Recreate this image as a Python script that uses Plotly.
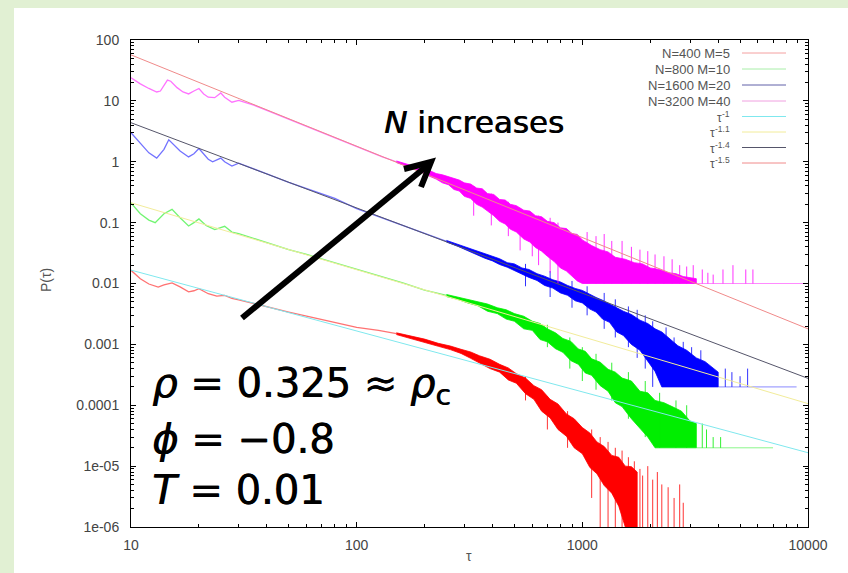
import plotly.graph_objects as go

# ---------------------------------------------------------------- data
# waiting-time distributions P(tau), four system sizes

# N=400 M=5 (red)
red_tau = [10, 11, 12, 13.2, 14, 15.2, 16.5, 18, 19, 20, 22, 24, 26, 28, 30, 40, 50, 60, 76, 100, 125, 150]
red_p = [0.0165, 0.012, 0.0098, 0.0087, 0.0095, 0.0102, 0.0088, 0.0073, 0.0076, 0.0082, 0.0068,
         0.0062, 0.0064, 0.0057, 0.0054, 0.0041, 0.0034, 0.0029, 0.0024, 0.0019, 0.0017, 0.0015]
red_band_tau = [150, 175, 200, 230, 260, 290, 320, 350, 390, 430, 470, 510, 560, 610, 660, 720, 780,
                850, 920, 1000, 1080, 1160, 1250, 1350, 1450, 1550, 1650, 1750]
red_band_hi = [0.00155, 0.00138, 0.00122, 0.00104, 0.00094, 0.00083, 0.00075, 0.00065, 0.00057, 0.00047,
               0.00041, 0.00033, 0.00028, 0.00021, 0.00018, 0.000125, 0.000105, 0.000072, 0.00006,
               0.000043, 0.000035, 0.000025, 0.000021, 0.000015, 0.000014, 0.000010, 0.0000098, 0.000008]
red_band_lo = [0.00145, 0.00125, 0.00108, 0.00093, 0.00082, 0.00071, 0.00059, 0.0005, 0.0004, 0.00035,
               0.00026, 0.00023, 0.000155, 0.000125, 0.00008, 0.000062, 0.00004, 0.000031, 0.00002,
               0.000016, 0.0000095, 0.0000075, 0.0000048, 0.0000036, 0.0000022, 0.000001, 4e-7, 4e-7]
red_floor = 4e-7
red_floor_end = 2800
red_spike_tau = [560, 700, 860, 1100, 1200, 1300, 1400, 1500, 1600, 1700, 1800, 1850, 1950, 2050,
                 2150, 2250, 2400, 2550, 2700, 2800]
red_spike_lo = [0.00012, 0.00004, 0.00002, 0.000003, 4e-7, 4e-7, 4e-7, 4e-7, 4e-7, 4e-7, 4e-7, 4e-7,
                4e-7, 4e-7, 4e-7, 4e-7, 4e-7, 4e-7, 4e-7, 4e-7]
red_spike_hi = [0.0003, 0.00014, 0.00008, 0.00004, 0.00003, 0.000025, 0.00002, 0.000018, 0.000014,
                0.000012, 0.000009, 0.000007, 0.00001, 0.000006, 0.000008, 0.000005, 0.0000045,
                0.000003, 0.000005, 0.0000025]

# N=800 M=10 (green)
green_tau = [10, 11, 12, 12.8, 14, 15.2, 16.5, 18, 19, 20, 21.5, 23.5, 26, 28, 30, 35, 40, 50, 60,
             80, 100, 130, 160, 200, 250]
green_p = [0.21, 0.14, 0.11, 0.10, 0.14, 0.165, 0.12, 0.088, 0.10, 0.115, 0.09, 0.077, 0.087, 0.07,
           0.066, 0.055, 0.048, 0.036, 0.030, 0.022, 0.017, 0.0128, 0.0102, 0.0078, 0.0064]
green_band_tau = [250, 280, 310, 345, 380, 420, 460, 500, 550, 600, 650, 700, 760, 820, 890, 960, 1030,
                  1100, 1200, 1300, 1400, 1500, 1650, 1800, 1950, 2100, 2300, 2500, 2750, 3000, 3200]
green_band_hi = [0.0066, 0.0060, 0.0056, 0.0050, 0.0046, 0.0040, 0.0037, 0.0032, 0.0029, 0.0024,
                 0.0022, 0.0018, 0.00155, 0.00125, 0.00112, 0.00084, 0.00077, 0.00058, 0.00051, 0.00039,
                 0.00035, 0.00028, 0.00025, 0.00017, 0.00016, 0.00012, 0.00011, 0.000095, 0.00008,
                 0.000055, 0.00005]
green_band_lo = [0.0061, 0.0055, 0.0048, 0.0043, 0.0035, 0.0032, 0.0026, 0.0024, 0.0018, 0.0017,
                 0.0012, 0.0011, 0.00085, 0.00074, 0.00054, 0.00047, 0.00034, 0.00031, 0.00021,
                 0.00017, 0.00011, 0.000095, 0.00006, 0.000042, 0.00003, 0.00002, 0.00002, 0.00002,
                 0.00002, 0.00002, 0.00002]
green_floor = 2e-5
green_floor_end = 7000
green_spike_tau = [700, 880, 1000, 1150, 1350, 1600, 1900, 2200, 2600, 2900, 3400, 3550, 3800, 4100]
green_spike_lo = [0.0009, 0.0004, 0.00025, 0.00018, 0.00012, 0.00006, 0.00003, 0.00002, 0.00002,
                  0.00002, 0.00002, 0.00002, 0.00002, 0.00002]
green_spike_hi = [0.0021, 0.0013, 0.0009, 0.0007, 0.0005, 0.00035, 0.00025, 0.00016, 0.00012, 0.0001,
                  0.00005, 0.00004, 0.00003, 0.00003]

# N=1600 M=20 (blue)
blue_tau = [10, 11, 12, 13, 14, 14.7, 15.5, 16.5, 18, 19, 20, 21, 22, 23, 25, 26, 28, 30, 35, 40,
            50, 60, 80, 100, 150, 200, 250]
blue_p = [3.0, 2.0, 1.4, 1.15, 1.6, 2.3, 1.9, 1.5, 1.2, 1.35, 1.65, 1.35, 1.1, 1.0, 1.15, 1.0, 0.85,
          0.95, 0.75, 0.63, 0.46, 0.36, 0.25, 0.17, 0.099, 0.066, 0.049]
blue_band_tau = [250, 280, 310, 340, 370, 400, 430, 465, 500, 540, 580, 630, 680, 740, 800, 860, 930,
                 1000, 1080, 1150, 1230, 1320, 1420, 1520, 1650, 1800, 1950, 2100, 2250, 2450, 2650,
                 2900, 3200, 3500, 3800, 4000]
blue_band_hi = [0.051, 0.044, 0.039, 0.035, 0.031, 0.028, 0.0255, 0.022, 0.021, 0.018, 0.017, 0.0145,
                0.0132, 0.0115, 0.0106, 0.0093, 0.0083, 0.0077, 0.0066, 0.0059, 0.0053, 0.0046,
                0.0041, 0.0035, 0.0031, 0.0025, 0.0022, 0.0018, 0.0016, 0.0012, 0.00095, 0.0008,
                0.0006, 0.00052, 0.0004, 0.00035]
blue_band_lo = [0.048, 0.041, 0.035, 0.030, 0.026, 0.0235, 0.0205, 0.0185, 0.0162, 0.0143, 0.0126,
                0.0112, 0.0093, 0.0084, 0.007, 0.0064, 0.0052, 0.0048, 0.0038, 0.0034, 0.0026, 0.0023,
                0.0016, 0.0014, 0.001, 0.0008, 0.00052, 0.00036, 0.0002, 0.0002, 0.0002, 0.0002,
                0.0002, 0.0002, 0.0002, 0.0002]
blue_floor = 2e-4
blue_floor_end = 8900
blue_spike_tau = [560, 720, 900, 1050, 1250, 1400, 1600, 1750, 1900, 2050, 2350, 2550, 2800, 3050,
                  3350, 4300, 4600, 5000, 5400]
blue_spike_lo = [0.009, 0.006, 0.004, 0.003, 0.0018, 0.0013, 0.0009, 0.0006, 0.0004, 0.0002, 0.0002,
                 0.0002, 0.0002, 0.0002, 0.0002, 0.0002, 0.0002, 0.0002, 0.0002]
blue_spike_hi = [0.021, 0.016, 0.011, 0.009, 0.007, 0.0055, 0.0042, 0.0037, 0.003, 0.0024, 0.0019,
                 0.0013, 0.0011, 0.0009, 0.0008, 0.0004, 0.00035, 0.0003, 0.0004]

# N=3200 M=40 (magenta)
mag_tau = [10, 11, 12, 13, 13.5, 14.5, 15, 16, 17, 18, 19, 20, 21, 22, 23.5, 25, 26, 28, 30, 35, 40,
           50, 60, 70, 80, 100, 130, 150]
mag_p = [24, 19, 16, 14, 14.5, 22, 21, 16.5, 14, 13, 14.5, 16, 13, 11.5, 11.3, 13.5, 11.5, 9.5, 10.2,
         8.5, 7.0, 5.0, 3.8, 3.05, 2.5, 1.78, 1.2, 1.0]
mag_band_tau = [150, 165, 180, 195, 210, 225, 240, 255, 270, 285, 300, 320, 340, 360, 380, 405, 430,
                455, 480, 510, 550, 585, 620, 660, 700, 750, 800, 850, 900, 950, 1000, 1100, 1200,
                1300, 1400, 1550, 1700, 1850, 2000, 2200, 2400, 2600, 2800, 3000, 3200]
mag_band_hi = [1.03, 0.92, 0.83, 0.77, 0.72, 0.64, 0.61, 0.57, 0.52, 0.50, 0.45, 0.43, 0.37, 0.36,
               0.30, 0.29, 0.24, 0.235, 0.20, 0.19, 0.16, 0.155, 0.13, 0.125, 0.105, 0.10, 0.082,
               0.08, 0.066, 0.064, 0.052, 0.042, 0.036, 0.033, 0.027, 0.025, 0.022, 0.021, 0.018,
               0.017, 0.015, 0.0145, 0.013, 0.0125, 0.012]
mag_band_lo = [0.97, 0.86, 0.76, 0.68, 0.58, 0.52, 0.45, 0.42, 0.35, 0.33, 0.27, 0.25, 0.20, 0.18,
               0.155, 0.13, 0.105, 0.095, 0.078, 0.07, 0.054, 0.048, 0.039, 0.034, 0.028, 0.023,
               0.018, 0.016, 0.013, 0.011, 0.010, 0.010, 0.010, 0.010, 0.010, 0.010, 0.010, 0.010,
               0.010, 0.010, 0.010, 0.010, 0.010, 0.010, 0.010]
mag_floor = 0.01
mag_floor_end = 9800
mag_spike_tau = [330, 395, 470, 530, 600, 640, 720, 780, 1050, 1150, 1250, 1350, 1500, 1650, 1800,
                 1950, 2100, 2300, 2500, 2700, 2900, 3100, 3400, 3600, 3800, 4200, 4650, 5300, 5700]
mag_spike_lo = [0.13, 0.09, 0.06, 0.035, 0.028, 0.02, 0.015, 0.01, 0.01, 0.01, 0.01, 0.01, 0.01, 0.01,
                0.01, 0.01, 0.01, 0.01, 0.01, 0.01, 0.01, 0.01, 0.01, 0.01, 0.01, 0.01, 0.01, 0.01, 0.01]
mag_spike_hi = [0.40, 0.30, 0.22, 0.17, 0.14, 0.13, 0.12, 0.10, 0.07, 0.06, 0.065, 0.05, 0.05, 0.04,
                0.036, 0.034, 0.03, 0.028, 0.025, 0.02, 0.019, 0.02, 0.017, 0.015, 0.014, 0.017,
                0.02, 0.017, 0.017]

# power-law guides  P = A * tau^(-k)
fit_k = [1.0, 1.1, 1.4, 1.5]
fit_amp = [0.166, 2.67, 110.0, 1800.0]
fit_tau = [10, 10000]

series_names = ["N=400 M=5", "N=800 M=10", "N=1600 M=20", "N=3200 M=40"]
fit_exp_labels = ["-1", "-1.1", "-1.4", "-1.5"]

y_tickvals = [1e-6, 1e-5, 1e-4, 1e-3, 1e-2, 1e-1, 1, 10, 100]
y_ticktext = ["1e-06", "1e-05", "0.0001", "0.001", "0.01", "0.1", "1", "10", "100"]
x_tickvals = [10, 100, 1000, 10000]
x_ticktext = ["10", "100", "1000", "10000"]

# ---------------------------------------------------------------- styling
series_colors = ["#ff0000", "#00ee00", "#0000ff", "#ff00ff"]
fit_colors = ["#7fe8ee", "#f2ec9a", "#55556a", "#f08a8a"]

W, H = 848, 573
PX0, PX1, PY0, PY1 = 131, 808, 40, 527   # plot frame in pixels


def fx(x):
    return (x - PX0) / (PX1 - PX0)


def fy(y):
    return (PY1 - y) / (PY1 - PY0)


fig = go.Figure()

series = [
    (red_tau, red_p, red_band_tau, red_band_lo, red_band_hi, red_floor, red_floor_end,
     red_spike_tau, red_spike_lo, red_spike_hi),
    (green_tau, green_p, green_band_tau, green_band_lo, green_band_hi, green_floor, green_floor_end,
     green_spike_tau, green_spike_lo, green_spike_hi),
    (blue_tau, blue_p, blue_band_tau, blue_band_lo, blue_band_hi, blue_floor, blue_floor_end,
     blue_spike_tau, blue_spike_lo, blue_spike_hi),
    (mag_tau, mag_p, mag_band_tau, mag_band_lo, mag_band_hi, mag_floor, mag_floor_end,
     mag_spike_tau, mag_spike_lo, mag_spike_hi),
]

for (tau, p, btau, blo, bhi, floor, fend, stau, slo, shi), col in zip(series, series_colors):
    # early, smooth part of the histogram
    fig.add_trace(go.Scatter(x=tau, y=p, mode="lines", line=dict(color=col, width=1.3),
                             opacity=0.55, showlegend=False, hoverinfo="skip"))
    # noisy region drawn as a filled band
    fig.add_trace(go.Scatter(x=btau + btau[::-1], y=bhi + blo[::-1], mode="lines",
                             fill="toself", fillcolor=col, line=dict(color=col, width=0.8),
                             showlegend=False, hoverinfo="skip"))
    # single-count floor
    fig.add_trace(go.Scatter(x=[btau[-1], fend], y=[floor, floor], mode="lines",
                             line=dict(color=col, width=1), opacity=0.45,
                             showlegend=False, hoverinfo="skip"))
    # isolated excursions
    sx, sy = [], []
    for t, lo, hi in zip(stau, slo, shi):
        sx += [t, t, None]
        sy += [lo, hi, None]
    fig.add_trace(go.Scatter(x=sx, y=sy, mode="lines", line=dict(color=col, width=1),
                             opacity=0.8, showlegend=False, hoverinfo="skip"))

for k, a, col in zip(fit_k, fit_amp, fit_colors):
    fig.add_trace(go.Scatter(x=fit_tau, y=[a * t ** (-k) for t in fit_tau], mode="lines",
                             line=dict(color=col, width=1), showlegend=False, hoverinfo="skip"))

# ---------------------------------------------------------------- decorations
shapes = [
    # slide background panel
    dict(type="rect", xref="paper", yref="paper", x0=fx(14), x1=fx(W + 2), y0=fy(H + 2), y1=fy(8),
         fillcolor="white", line=dict(width=0), layer="below"),
]

annotations = []
small = dict(family="Liberation Sans", size=14, color="#555")
key_font = dict(family="Liberation Sans", size=13, color="#555")
tau_font = dict(family="Liberation Sans", size=12, color="#555")
exp_font = dict(family="Liberation Sans", size=8.5, color="#555")

# approximate advance widths (em) of the exponent characters
char_em = {"-": 0.333, ".": 0.278, "1": 0.556, "4": 0.556, "5": 0.556}

# key, gnuplot style: label on the left, sample on the right
KEY_RIGHT = 731
leg_rows = [53, 69, 85, 101, 116.5, 132, 147.5, 163]
leg_colors = ["#f4a0a0", "#a8eea8", "#6060a8", "#f0a0e0"] + fit_colors
for ry, lab in zip(leg_rows[:4], series_names):
    annotations.append(dict(x=fx(KEY_RIGHT), y=fy(ry), xref="paper", yref="paper", text=lab,
                            showarrow=False, xanchor="right", yanchor="middle", borderpad=0,
                            font=key_font))
for ry, ex in zip(leg_rows[4:], fit_exp_labels):
    ex_w = sum(char_em[c] for c in ex) * exp_font["size"]
    annotations.append(dict(x=fx(KEY_RIGHT), y=fy(ry - 3), xref="paper", yref="paper", text=ex,
                            showarrow=False, xanchor="right", yanchor="middle", borderpad=0,
                            font=exp_font))
    annotations.append(dict(x=fx(KEY_RIGHT - ex_w), y=fy(ry + 1), xref="paper", yref="paper",
                            text="τ", showarrow=False, xanchor="right", yanchor="middle",
                            borderpad=0, font=tau_font))
for ry, col in zip(leg_rows, leg_colors):
    shapes.append(dict(type="line", xref="paper", yref="paper", x0=fx(742), x1=fx(786),
                       y0=fy(ry), y1=fy(ry), line=dict(color=col, width=1)))

# axis titles
annotations.append(dict(x=fx(36), y=fy(280), xref="paper", yref="paper", text="P(τ)",
                        textangle=-90, showarrow=False, font=small))
annotations.append(dict(x=fx(469), y=fy(566), xref="paper", yref="paper", text="τ",
                        showarrow=False, font=small))

# arrow
shapes.append(dict(type="path", xref="paper", yref="paper",
                   path=f"M {fx(242)},{fy(318)} L {fx(428)},{fy(165)}",
                   line=dict(color="black", width=6)))
shapes.append(dict(type="path", xref="paper", yref="paper",
                   path=f"M {fx(404)},{fy(169)} L {fx(431)},{fy(162)} L {fx(421)},{fy(187)}",
                   line=dict(color="black", width=6)))

big = dict(family="DejaVu Sans", color="black", shadow="0.7px 0px 0px #000")
annotations.append(dict(x=fx(382), y=fy(122), xref="paper", yref="paper",
                        text="<i>N</i> increases", showarrow=False, xanchor="left",
                        yanchor="middle", font=dict(size=31, **big)))
annotations.append(dict(x=fx(150), y=fy(386), xref="paper", yref="paper",
                        text="<i>ρ</i> = 0.325 ≈ <i>ρ</i><sub>c</sub>", showarrow=False,
                        xanchor="left", yanchor="middle", font=dict(size=40, **big)))
annotations.append(dict(x=fx(150), y=fy(439), xref="paper", yref="paper",
                        text="<i>ϕ</i> = −0.8", showarrow=False,
                        xanchor="left", yanchor="middle", font=dict(size=40, **big)))
annotations.append(dict(x=fx(150), y=fy(490), xref="paper", yref="paper",
                        text="<i>T</i> = 0.01", showarrow=False,
                        xanchor="left", yanchor="middle", font=dict(size=40, **big)))

axis_common = dict(
    type="log", showgrid=False, zeroline=False, showline=True, linecolor="black", linewidth=1,
    mirror="allticks", ticks="inside", ticklen=5, tickcolor="black", tickwidth=1,
    tickfont=dict(family="Liberation Sans", size=14, color="#444"),
    minor=dict(ticks="inside", ticklen=3, tickcolor="black", dtick="D1", showgrid=False),
)

fig.update_layout(
    width=W, height=H,
    margin=dict(l=PX0, r=W - PX1, t=PY0, b=H - PY1),
    paper_bgcolor="#e1f0d3", plot_bgcolor="white",
    xaxis=dict(range=[1, 4], tickvals=x_tickvals, ticktext=x_ticktext, ticklabelstandoff=5,
               **axis_common),
    yaxis=dict(range=[-6, 2], tickvals=y_tickvals, ticktext=y_ticktext, ticklabelstandoff=8,
               **axis_common),
    shapes=shapes, annotations=annotations, showlegend=False,
)

fig.write_html("out.html")
